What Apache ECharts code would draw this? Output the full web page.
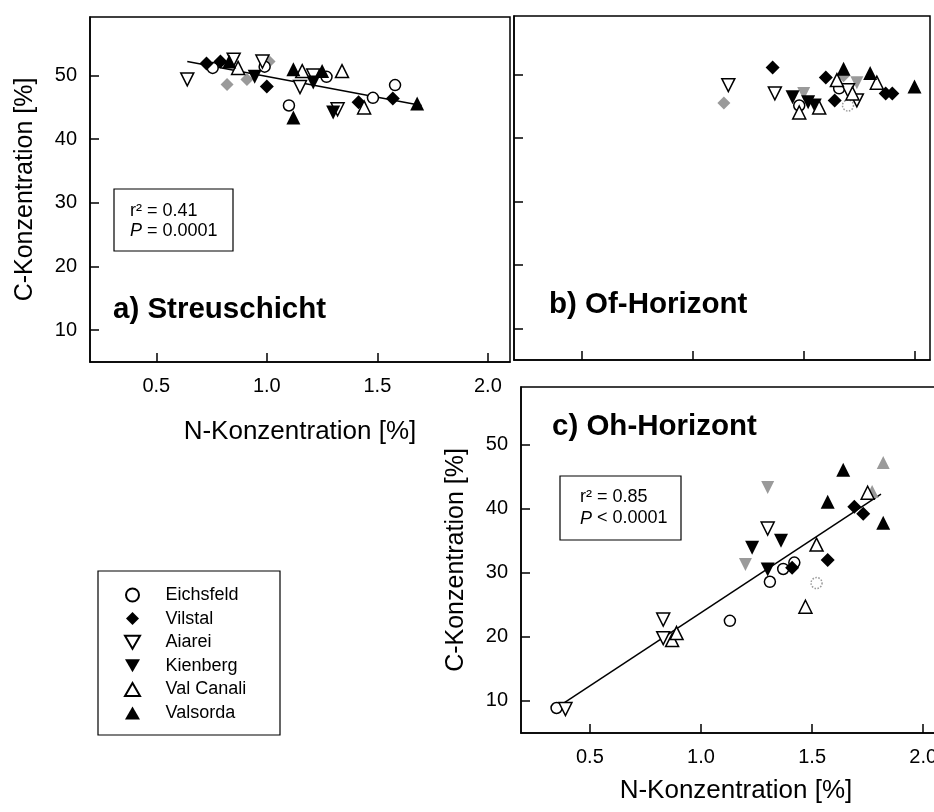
<!DOCTYPE html>
<html>
<head>
<meta charset="utf-8">
<script src="https://cdn.jsdelivr.net/npm/echarts@6/dist/echarts.min.js"></script>
<style>html,body{margin:0;padding:0;background:#fff}#c{width:934px;height:812px}</style>
</head>
<body>
<div id="c"></div>
<script>
// ---- categories / ticks ----
const categories = ['Eichsfeld', 'Vilstal', 'Aiarei', 'Kienberg', 'Val Canali', 'Valsorda'];
const xTicks = [0.5, 1.0, 1.5, 2.0];
const yTicks = [10, 20, 30, 40, 50];

// ---- a) Streuschicht  [N %, C %] ----
const aEichsfeld = [[0.755, 51.2], [0.99, 51.4], [1.27, 49.8], [1.10, 45.3], [1.48, 46.5], [1.58, 48.5]];
const aVilstal = [[0.727, 51.9], [0.79, 52.2], [1.00, 48.3], [1.415, 45.8], [1.57, 46.4]];
const aAiarei = [[0.64, 49.4], [0.85, 52.5], [0.98, 52.2], [1.15, 48.2], [1.21, 50.0], [1.32, 44.7]];
const aKienberg = [[0.945, 49.8], [1.21, 48.9], [1.30, 44.2]];
const aValCanali = [[0.87, 51.2], [1.16, 50.7], [1.34, 50.7], [1.44, 45.0]];
const aValsorda = [[0.83, 52.2], [1.12, 51.0], [1.25, 50.7], [1.12, 43.4], [1.68, 45.6]];
const aGreyDiamond = [[0.82, 48.6], [0.91, 49.4], [1.01, 52.2]];
const aFitX = [0.64, 1.70];
const aFitY = [52.2, 45.3];

// ---- b) Of-Horizont ----
const bEichsfeld = [[1.48, 45.1], [1.66, 47.8]];
const bVilstal = [[1.36, 51.1], [1.60, 49.5], [1.64, 45.9], [1.87, 47.0], [1.90, 47.0]];
const bAiarei = [[1.16, 48.3], [1.37, 47.0], [1.70, 47.5], [1.74, 45.9]];
const bKienberg = [[1.45, 46.4], [1.52, 45.6], [1.55, 45.1]];
const bValCanali = [[1.48, 44.0], [1.57, 44.8], [1.65, 49.1], [1.72, 47.0], [1.83, 48.7]];
const bValsorda = [[1.68, 50.9], [1.80, 50.2], [2.00, 48.1]];
const bGreyDiamond = [[1.14, 45.5], [1.68, 49.8]];
const bGreyInv = [[1.50, 47.0], [1.74, 48.7]];
const bGreyCircle = [[1.70, 45.1]];

// ---- c) Oh-Horizont ----
const cEichsfeld = [[0.35, 8.9], [1.13, 22.5], [1.31, 28.6], [1.37, 30.6], [1.42, 31.6]];
const cVilstal = [[1.41, 30.8], [1.57, 32.0], [1.69, 40.3], [1.73, 39.2]];
const cAiarei = [[0.39, 8.75], [0.83, 22.7], [0.83, 19.8], [1.30, 36.9]];
const cKienberg = [[1.23, 33.9], [1.36, 35.0], [1.30, 30.5]];
const cValCanali = [[0.87, 19.5], [0.89, 20.6], [1.47, 24.7], [1.52, 34.4], [1.75, 42.5]];
const cValsorda = [[1.57, 41.1], [1.64, 46.1], [1.82, 37.8]];
const cGreyCircle = [[1.52, 28.4]];
const cGreyInv = [[1.20, 31.3], [1.30, 43.3]];
const cGreyTri = [[1.77, 42.7], [1.82, 47.2]];
const cFitX = [0.37, 1.81];
const cFitY = [9.4, 42.3];

// ---- styling ----
const FONT = 'Liberation Sans, Arial, sans-serif';
const INV = 'path://M0,0L10,0L5,8.66Z';
const TRI = 'path://M5,0L10,8.66L0,8.66Z';
const DIA = 'path://M5,0L10,5L5,10L0,5Z';
const GREY = '#9a9a9a';
const styles = {
  'Eichsfeld': { symbol: 'circle', symbolSize: 11, itemStyle: { color: '#fff', borderColor: '#000', borderWidth: 1.5, opacity: 1 } },
  'Vilstal': { symbol: DIA, symbolSize: 14, itemStyle: { color: '#000', opacity: 1 } },
  'Aiarei': { symbol: INV, symbolSize: 13, itemStyle: { color: '#fff', borderColor: '#000', borderWidth: 1.5, opacity: 1 } },
  'Kienberg': { symbol: INV, symbolSize: 14, itemStyle: { color: '#000', opacity: 1 } },
  'Val Canali': { symbol: TRI, symbolSize: 13, itemStyle: { color: '#fff', borderColor: '#000', borderWidth: 1.5, opacity: 1 } },
  'Valsorda': { symbol: TRI, symbolSize: 14, itemStyle: { color: '#000', opacity: 1 } }
};
const greyStyles = {
  diamond: { symbol: DIA, symbolSize: 13, itemStyle: { color: GREY, opacity: 1 } },
  inv: { symbol: INV, symbolSize: 13, itemStyle: { color: GREY, opacity: 1 } },
  tri: { symbol: TRI, symbolSize: 13, itemStyle: { color: GREY, opacity: 1 } },
  circle: { symbol: 'circle', symbolSize: 11, itemStyle: { color: '#fff', borderColor: GREY, borderWidth: 1.5, borderType: 'dotted', opacity: 1 } }
};

const panels = [
  { sites: [aEichsfeld, aVilstal, aAiarei, aKienberg, aValCanali, aValsorda],
    grey: [['diamond', aGreyDiamond]], fit: [aFitX, aFitY] },
  { sites: [bEichsfeld, bVilstal, bAiarei, bKienberg, bValCanali, bValsorda],
    grey: [['diamond', bGreyDiamond], ['inv', bGreyInv], ['circle', bGreyCircle]], fit: null },
  { sites: [cEichsfeld, cVilstal, cAiarei, cKienberg, cValCanali, cValsorda],
    grey: [['circle', cGreyCircle], ['inv', cGreyInv], ['tri', cGreyTri]], fit: [cFitX, cFitY] }
];

const series = [];
panels.forEach((p, pi) => {
  if (p.fit) {
    series.push({
      type: 'line', name: 'Regression ' + pi, xAxisIndex: pi, yAxisIndex: pi,
      data: p.fit[0].map((x, i) => [x, p.fit[1][i]]),
      symbol: 'none', lineStyle: { color: '#000', width: 1.5 }, silent: true, z: 1
    });
  }
  p.grey.forEach(([k, d], gi) => {
    series.push(Object.assign({ type: 'scatter', name: 'grau ' + k + pi + gi, xAxisIndex: pi, yAxisIndex: pi, data: d, z: 2 }, greyStyles[k]));
  });
  categories.forEach((c, ci) => {
    series.push(Object.assign({ type: 'scatter', name: c, xAxisIndex: pi, yAxisIndex: pi, data: p.sites[ci], z: 3 }, styles[c]));
  });
});

function xAxis(gi, min, max, showLabel, name, gap, shift) {
  return {
    type: 'value', gridIndex: gi, min: min, max: max,
    axisLine: { lineStyle: { color: '#000', width: 1.5 } },
    axisTick: { inside: true, length: 9, customValues: xTicks, lineStyle: { color: '#000', width: 1.5 } },
    axisLabel: { show: showLabel, customValues: xTicks, formatter: v => v.toFixed(1), fontSize: 20, fontFamily: FONT, color: '#000', margin: 14 },
    splitLine: { show: false },
    name: name, nameLocation: 'middle', nameGap: gap,
    nameTextStyle: { fontSize: 26, fontFamily: FONT, color: '#000', padding: [0, 0, 0, shift] }
  };
}
function yAxis(gi, showLabel, name, max) {
  return {
    type: 'value', gridIndex: gi, min: 5, max: max,
    axisLine: { lineStyle: { color: '#000', width: 1.5 } },
    axisTick: { inside: true, length: 9, customValues: yTicks, lineStyle: { color: '#000', width: 1.5 } },
    axisLabel: { show: showLabel, customValues: yTicks, fontSize: 20, fontFamily: FONT, color: '#000', margin: 13 },
    splitLine: { show: false },
    name: name, nameLocation: 'middle', nameGap: 52,
    nameTextStyle: { fontSize: 25, fontFamily: FONT, color: '#000' }
  };
}

const chart = echarts.init(document.getElementById('c'), null, { renderer: 'canvas' });
chart.setOption({
  animation: false,
  backgroundColor: '#fff',
  grid: [
    { left: 90, top: 17, width: 420, height: 345, show: true, borderColor: '#000', borderWidth: 1.5, outerBoundsMode: 'none' },
    { left: 514, top: 16, width: 416, height: 344, show: true, borderColor: '#000', borderWidth: 1.5, outerBoundsMode: 'none' },
    { left: 521, top: 387, width: 420, height: 346, show: true, borderColor: '#000', borderWidth: 1.5, outerBoundsMode: 'none' }
  ],
  xAxis: [
    xAxis(0, 0.2, 2.1, true, 'N-Konzentration [%]', 57, 0),
    xAxis(1, 0.193, 2.07, false, '', 0, 0),
    xAxis(2, 0.19, 2.08, true, 'N-Konzentration [%]', 45, 10)
  ],
  yAxis: [
    yAxis(0, true, 'C-Konzentration [%]', 59.2),
    yAxis(1, false, '', 59.2),
    yAxis(2, true, 'C-Konzentration [%]', 59)
  ],
  legend: {
    data: categories, orient: 'vertical', left: 124, top: 586, padding: 0,
    itemWidth: 56, itemHeight: 13, itemGap: 5.6, selectedMode: false,
    textStyle: { fontSize: 18, fontFamily: FONT, color: '#000', lineHeight: 18 }
  },
  graphic: [
    { type: 'rect', shape: { x: 98, y: 571, width: 182, height: 164 }, style: { fill: 'none', stroke: '#000', lineWidth: 1.2 }, z: 10 },
    { type: 'rect', shape: { x: 114, y: 189, width: 119, height: 62 }, style: { fill: '#fff', stroke: '#000', lineWidth: 1.2 }, z: 10 },
    { type: 'text', x: 130, y: 201, z: 11, style: {
        text: '{n|r² = 0.41}\n{i|P}{n| = 0.0001}',
        rich: { n: { fontSize: 18, fontFamily: FONT, fill: '#000', lineHeight: 20 }, i: { fontSize: 18, fontFamily: FONT, fontStyle: 'italic', fill: '#000', lineHeight: 20 } } } },
    { type: 'rect', shape: { x: 560, y: 476, width: 121, height: 64 }, style: { fill: '#fff', stroke: '#000', lineWidth: 1.2 }, z: 10 },
    { type: 'text', x: 580, y: 487, z: 11, style: {
        text: '{n|r² = 0.85}\n{i|P}{n| < 0.0001}',
        rich: { n: { fontSize: 18, fontFamily: FONT, fill: '#000', lineHeight: 21 }, i: { fontSize: 18, fontFamily: FONT, fontStyle: 'italic', fill: '#000', lineHeight: 21 } } } },
    { type: 'text', x: 113, y: 310, z: 11, style: { text: 'a) Streuschicht', fontSize: 29.5, fontWeight: 'bold', fontFamily: FONT, fill: '#000', verticalAlign: 'middle' } },
    { type: 'text', x: 549, y: 305, z: 11, style: { text: 'b) Of-Horizont', fontSize: 29.5, fontWeight: 'bold', fontFamily: FONT, fill: '#000', verticalAlign: 'middle' } },
    { type: 'text', x: 552, y: 427, z: 11, style: { text: 'c) Oh-Horizont', fontSize: 29.5, fontWeight: 'bold', fontFamily: FONT, fill: '#000', verticalAlign: 'middle' } }
  ],
  series: series
});
</script>
</body>
</html>
